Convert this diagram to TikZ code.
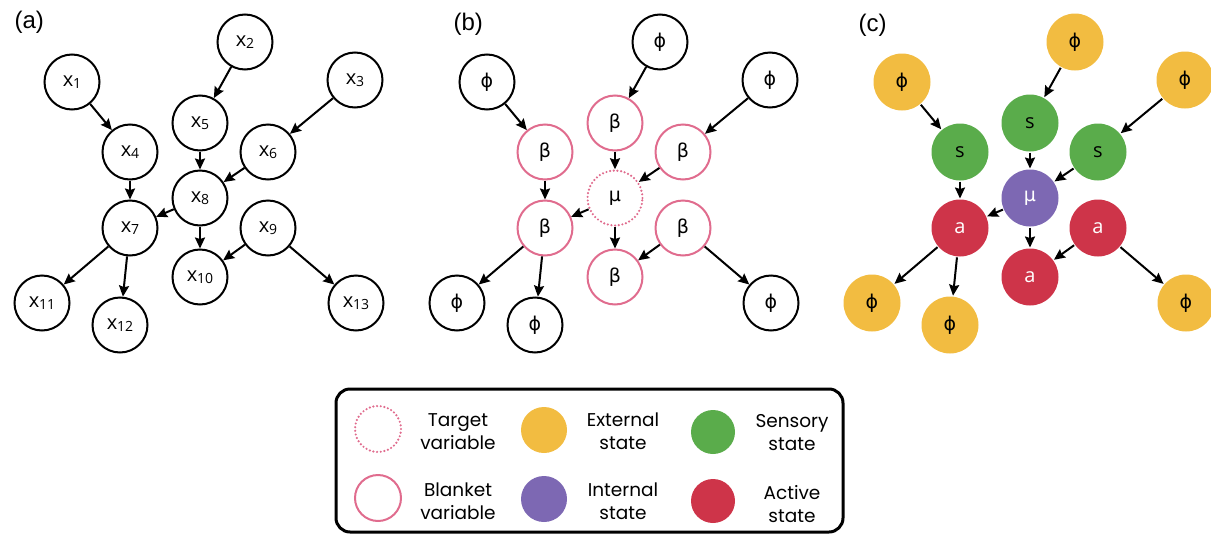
\documentclass[tikz,border=0pt]{standalone}
\usepackage{fontspec}
\setmainfont{Poppins}
\newfontfamily\greekfont{DejaVu Sans}
\newfontfamily\labfont{Liberation Sans}
\newfontfamily\nodefont{Open Sans}
\usetikzlibrary{arrows.meta}

\definecolor{extcol}{HTML}{F2BC41}
\definecolor{senscol}{HTML}{5AAC4B}
\definecolor{intcol}{HTML}{7D68B3}
\definecolor{actcol}{HTML}{CE3449}
\definecolor{blankcol}{HTML}{E06C8E}

% node texts
\newcommand\xv[1]{x\raisebox{-2pt}{\fontsize{14}{16}\selectfont #1}}
\newcommand\gph{{\greekfont\fontsize{19}{22}\selectfont ϕ}}
\newcommand\gbe{{\greekfont\fontsize{19}{22}\selectfont β}}
\newcommand\gmu{{\greekfont\fontsize{19}{22}\selectfont μ}}

\tikzset{
  var/.style={circle, draw, line width=2pt, minimum size=55pt, inner sep=0pt,
    font=\nodefont\fontsize{20}{24}\selectfont},
  blanket/.style={var, draw=blankcol},
  target/.style={var, draw=blankcol, line width=2.4pt, line cap=round,
    dash pattern=on 0pt off 3.7pt},
  ext/.style={var, draw=none, minimum size=57pt, fill=extcol},
  sens/.style={var, draw=none, minimum size=57pt, fill=senscol},
  int/.style={var, draw=none, minimum size=57pt, fill=intcol, text=white},
  act/.style={var, draw=none, minimum size=57pt, fill=actcol, text=white},
  arr/.style={-{Stealth[length=11pt,width=10pt,inset=1.5pt]}, line width=2pt},
  panellabel/.style={anchor=west, font=\labfont\fontsize{24}{28}\selectfont},
  legtext/.style={align=center, font=\fontsize{18.5}{23}\selectfont},
}

\begin{document}
\begin{tikzpicture}[x=1pt, y=-1pt]
\useasboundingbox (0,0) rectangle (1211,536);

% panel (a)
\node[panellabel] (laba) at (11,22) {(a)};
\foreach \n/\x/\y in {1/72/82, 2/245/42, 3/355/80, 4/130/152, 5/200/123,
    6/268/152, 7/130/228, 8/200/198, 9/268/228, 10/200/277, 11/42/303,
    12/120/325, 13/356/303}
  \node[var] (a\n) at (\x,\y) {\xv{\n}};

% panel (b)
\node[panellabel] (labb) at (450,24) {(b)};
\foreach \n/\x/\y/\st/\t in {1/72/82/var/\gph, 2/245/42/var/\gph,
    3/355/80/var/\gph, 4/130/152/blanket/\gbe, 5/200/123/blanket/\gbe,
    6/268/152/blanket/\gbe, 7/130/228/blanket/\gbe, 8/200/198/target/\gmu,
    9/268/228/blanket/\gbe, 10/200/277/blanket/\gbe, 11/42/303/var/\gph,
    12/120/325/var/\gph, 13/356/303/var/\gph}
  \node[\st] (b\n) at (\x+415,\y) {\t};

% panel (c)
\node[panellabel] (labc) at (855,25) {(c)};
\foreach \n/\x/\y/\st/\t in {1/72/82/ext/\gph, 2/245/42/ext/\gph,
    3/355/80/ext/\gph, 4/130/152/sens/s, 5/200/123/sens/s,
    6/268/152/sens/s, 7/130/228/act/a, 8/200/198/int/\gmu,
    9/268/228/act/a, 10/200/277/act/a, 11/42/303/ext/\gph,
    12/120/325/ext/\gph, 13/356/303/ext/\gph}
  \node[\st] (c\n) at (\x+830,\y) {\t};

% same edges in all three panels
\foreach \p in {a,b,c}
  \foreach \u/\v in {1/4, 2/5, 3/6, 4/7, 5/8, 6/8, 8/7, 8/10, 9/10, 7/11,
      7/12, 9/13}
    \draw[arr] (\p\u) -- (\p\v);

% legend
\node[draw, line width=3pt, rounded corners=14pt, minimum width=507pt,
  minimum height=143pt] (legend) at (589.5,460.5) {};
\node[target, minimum size=46pt] (ktarget) at (378,429) {};
\node[blanket, minimum size=46pt] (kblanket) at (378,498) {};
\node[ext, minimum size=46pt] (kext) at (544,430) {};
\node[int, minimum size=46pt] (kint) at (544,499) {};
\node[sens, minimum size=44pt] (ksens) at (713,432) {};
\node[act, minimum size=44pt] (kact) at (713,501) {};
\node[legtext] (ttarget) at (458,432) {Target\\variable};
\node[legtext] (tblanket) at (458,501) {Blanket\\variable};
\node[legtext] (text) at (623,431) {External\\state};
\node[legtext] (tint) at (623,501) {Internal\\state};
\node[legtext] (tsens) at (792,433) {Sensory\\state};
\node[legtext] (tact) at (792,504) {Active\\state};
\end{tikzpicture}
\end{document}
